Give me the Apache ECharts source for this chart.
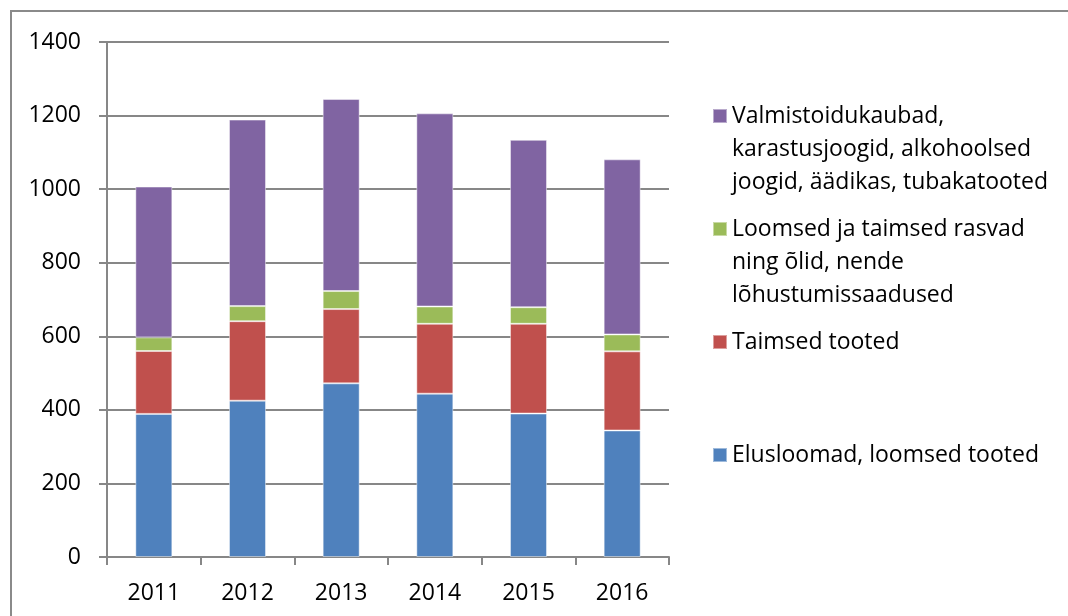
<!DOCTYPE html>
<html>
<head>
<meta charset="utf-8">
<script src="https://cdn.jsdelivr.net/npm/echarts@6/dist/echarts.min.js"></script>
<style>
	html, body { margin: 0; padding: 0; background: #fff; }
	#chart { width: 1068px; height: 616px; }
</style>
</head>
<body>
<div id="chart"></div>
<script>
var years = ['2011', '2012', '2013', '2014', '2015', '2016'];
var yTicks = [0, 200, 400, 600, 800, 1000, 1200, 1400];

var elusloomad = [389, 425, 472, 444, 390, 344];
var taimsed = [171, 216, 202, 190, 244, 215];
var rasvad = [37, 41, 49, 47, 45, 46];
var valmistoidud = [410, 507, 522, 525, 455, 476];

var names = [
	'Elusloomad, loomsed tooted',
	'Taimsed tooted',
	'Loomsed ja taimsed rasvad ning õlid, nende lõhustumissaadused',
	'Valmistoidukaubad, karastusjoogid, alkohoolsed joogid, äädikas, tubakatooted'
];
// how the legend breaks the long names
var legendLines = {};
legendLines[names[0]] = ['Elusloomad, loomsed tooted'];
legendLines[names[1]] = ['Taimsed tooted'];
legendLines[names[2]] = ['Loomsed ja taimsed rasvad', 'ning õlid, nende', 'lõhustumissaadused'];
legendLines[names[3]] = ['Valmistoidukaubad,', 'karastusjoogid, alkohoolsed', 'joogid, äädikas, tubakatooted'];

var colors = ['#4F81BD', '#C0504D', '#9BBB59', '#8064A2'];
var FONT = 'Open Sans';
var FONT_SIZE = 23;
var LINE_H = 33;

window.onload = function(){
	var chart = echarts.init(document.getElementById('chart'));

	// one legend per item so the square sits beside the first text line
	function makeLegend(name, iconTop){
		var lines = legendLines[name];
		var pre = lines.length > 1 ? '\n\n' : '';
		// the text block is centred on the icon; blank lines push line one onto it
		var blockTop = 7 - (lines.length > 1 ? 5 : 1) * LINE_H / 2;
		return {
			data: [name],
			orient: 'vertical',
			left: 712,
			top: iconTop + blockTop,
			padding: 0,
			itemGap: 0,
			itemWidth: 14,
			itemHeight: 14,
			icon: 'rect',
			selectedMode: false,
			formatter: function(n){ return pre + legendLines[n].join('\n'); },
			textStyle: { fontFamily: FONT, fontSize: FONT_SIZE, color: '#000', lineHeight: LINE_H }
		};
	}

	var seriesData = [elusloomad, taimsed, rasvad, valmistoidud];
	var series = [];
	for (var i = 0; i < 4; i++) {
		series.push({
			name: names[i],
			type: 'bar',
			stack: 'total',
			barWidth: 37,
			data: seriesData[i],
			itemStyle: { color: colors[i], borderColor: 'rgba(255,255,255,0.45)', borderWidth: 1 },
			emphasis: { disabled: true }
		});
	}

	chart.setOption({
		animation: false,
		backgroundColor: '#fff',
		grid: { left: 107, right: 399, top: 42, bottom: 59 },
		legend: [
			makeLegend(names[3], 109),
			makeLegend(names[2], 222),
			makeLegend(names[1], 335),
			makeLegend(names[0], 448)
		],
		xAxis: {
			type: 'category',
			data: years,
			axisLine: { lineStyle: { color: '#878787', width: 2 } },
			axisTick: { show: true, length: 8, lineStyle: { color: '#878787', width: 2 } },
			axisLabel: { fontFamily: FONT, fontSize: FONT_SIZE, color: '#000', margin: 25 }
		},
		yAxis: {
			type: 'value',
			min: yTicks[0],
			max: yTicks[yTicks.length - 1],
			interval: yTicks[1] - yTicks[0],
			axisLine: { show: true, lineStyle: { color: '#878787', width: 2 } },
			axisTick: { show: true, length: 8, lineStyle: { color: '#878787', width: 2 } },
			splitLine: { lineStyle: { color: '#878787', width: 2 } },
			axisLabel: {
				fontFamily: FONT, fontSize: FONT_SIZE, color: '#000', margin: 26,
				formatter: function(v){ return String(v); }
			}
		},
		graphic: [{
			type: 'polyline',
			shape: { points: [[11, 616], [11, 11], [1068, 11]] },
			style: { stroke: '#8a8a8a', lineWidth: 2, fill: null },
			silent: true
		}],
		series: series
	});
};
</script>
</body>
</html>
